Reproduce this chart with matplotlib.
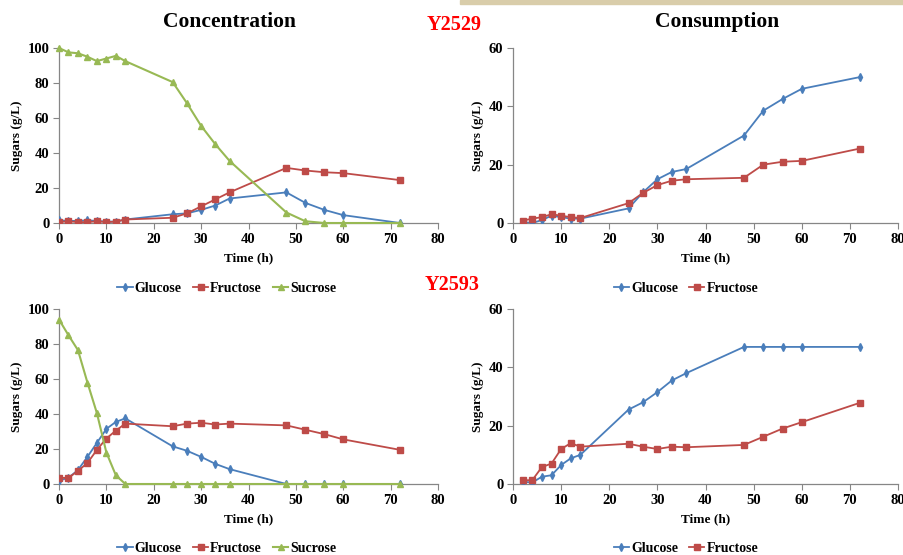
import matplotlib
matplotlib.use("Agg")
import matplotlib.pyplot as plt
from matplotlib.patches import Rectangle

# ============================================================
#  Data
# ============================================================
time_conc = [0, 2, 4, 6, 8, 10, 12, 14, 24, 27, 30, 33, 36, 48, 52, 56, 60, 72]
time_cons = [2, 4, 6, 8, 10, 12, 14, 24, 27, 30, 33, 36, 48, 52, 56, 60, 72]

# Y2529 concentration
y2529_glucose = [1.5, 1.2, 1.2, 1.5, 1.2, 0.8, 0.8, 2, 5, 5.5, 7.5, 10, 14, 17.5, 11.5, 7.5, 4.5, 0]
y2529_fructose = [0.5, 1, 0.5, 0.5, 1, 0.5, 0.8, 2, 3, 5.5, 9.5, 13.5, 17.5, 31.5, 30, 29, 28.5, 24.5]
y2529_sucrose = [100, 97.5, 97, 95, 92.5, 94, 95.5, 92.5, 80.5, 68.5, 55.5, 45, 35.5, 6, 1, 0, 0, 0]

# Y2529 consumption
y2529_glc_cons = [0.3, 0, 1, 2.5, 2, 1.5, 1.5, 5, 10.5, 15, 17.5, 18.5, 30, 38.5, 42.5, 46, 50]
y2529_fru_cons = [0.8, 1.5, 2, 3, 2.5, 2, 1.7, 6.8, 10.3, 13, 14.5, 15, 15.5, 20, 21, 21.3, 25.5]

# Y2593 concentration
y2593_glucose = [2, 3.5, 8, 15.5, 23.5, 31.5, 35.5, 37.5, 21.5, 19, 15.5, 11.5, 8.5, 0, 0, 0, 0, 0]
y2593_fructose = [3.5, 3.5, 7.5, 12, 19.5, 26, 30.5, 34.5, 33, 34.5, 35, 34, 34.5, 33.5, 31, 28.5, 25.5, 19.5]
y2593_sucrose = [94, 85, 76.5, 58, 40.5, 18, 5, 0, 0, 0, 0, 0, 0, 0, 0, 0, 0, 0]

# Y2593 consumption
y2593_glc_cons = [0.8, 0.5, 2.5, 3, 6.5, 8.8, 10, 25.5, 28, 31.5, 35.5, 38, 47, 47, 47, 47, 47]
y2593_fru_cons = [1.3, 1.3, 5.8, 7, 12, 14, 12.8, 13.8, 12.8, 12, 12.8, 12.6, 13.4, 16.2, 19, 21.2, 27.8]

BLUE = "#4A7EBB"
RED = "#BE4B48"
GREEN = "#98B954"
SPINE = "#868686"

plt.rcParams["font.family"] = ["Liberation Serif", "DejaVu Serif"]
plt.rcParams["font.weight"] = "bold"

W, H = 904, 555
fig = plt.figure(figsize=(W / 100, H / 100), dpi=100)


def px_axes(x0, x1, ytop, ybot):
    return fig.add_axes([x0 / W, 1 - ybot / H, (x1 - x0) / W, (ybot - ytop) / H])


def style(ax, ymax, ystep):
    ax.set_xlim(0, 80)
    ax.set_ylim(0, ymax)
    ax.set_xticks(range(0, 81, 10))
    ax.set_yticks(range(0, ymax + 1, ystep))
    for s in ["top", "right"]:
        ax.spines[s].set_visible(False)
    for s in ["left", "bottom"]:
        ax.spines[s].set_color(SPINE)
        ax.spines[s].set_linewidth(0.9)
    ax.tick_params(axis="both", direction="out", length=4, width=0.8,
                   color=SPINE, labelsize=10.5, pad=3)
    for label in ax.get_xticklabels() + ax.get_yticklabels():
        label.set_fontweight("bold")
    ax.set_xlabel("Time (h)", fontsize=9.5, fontweight="bold", labelpad=5)
    ax.set_ylabel("Sugars (g/L)", fontsize=9.5, fontweight="bold", labelpad=3)


def plot_conc(ax, glc, fru, suc):
    ax.plot(time_conc, glc, color=BLUE, marker="d", markersize=4, lw=1.3,
            label="Glucose", zorder=3)
    ax.plot(time_conc, fru, color=RED, marker="s", markersize=4.5, lw=1.3,
            label="Fructose", zorder=3)
    ax.plot(time_conc, suc, color=GREEN, marker="^", markersize=4.5, lw=1.5,
            label="Sucrose", zorder=3, clip_on=False)
    style(ax, 100, 20)


def plot_cons(ax, glc, fru):
    ax.plot(time_cons, glc, color=BLUE, marker="d", markersize=4, lw=1.3,
            label="Glucose", zorder=3)
    ax.plot(time_cons, fru, color=RED, marker="s", markersize=4.5, lw=1.3,
            label="Fructose", zorder=3)
    style(ax, 60, 20)


ax_tl = px_axes(59, 438, 48, 223)
ax_tr = px_axes(513, 898, 48, 223)
ax_bl = px_axes(59, 438, 309, 484)
ax_br = px_axes(513, 898, 309, 484)

plot_conc(ax_tl, y2529_glucose, y2529_fructose, y2529_sucrose)
plot_cons(ax_tr, y2529_glc_cons, y2529_fru_cons)
plot_conc(ax_bl, y2593_glucose, y2593_fructose, y2593_sucrose)
plot_cons(ax_br, y2593_glc_cons, y2593_fru_cons)

# legends below each panel
for ax, cx, cy in [(ax_tl, 227, 288), (ax_tr, 686, 288),
                   (ax_bl, 227, 548), (ax_br, 686, 548)]:
    h, l = ax.get_legend_handles_labels()
    fig.legend(h, l, bbox_to_anchor=(cx / W, 1 - cy / H), loc="center",
               frameon=False, ncol=3, handlelength=1.1, handletextpad=0.15,
               columnspacing=0.8, prop={"weight": "bold", "size": 10})

# titles
fig.text(230 / W, 1 - 22 / H, "Concentration", ha="center", va="center",
         fontsize=15.5, fontweight="bold")
fig.text(717 / W, 1 - 22 / H, "Consumption", ha="center", va="center",
         fontsize=15.5, fontweight="bold")
fig.text(454 / W, 1 - 25 / H, "Y2529", ha="center", va="center",
         fontsize=14.5, fontweight="bold", color="red")
fig.text(452 / W, 1 - 285 / H, "Y2593", ha="center", va="center",
         fontsize=14.5, fontweight="bold", color="red")

# beige bar at the top of the slide
fig.patches.append(Rectangle((460 / W, 1 - 4 / H), (W - 460) / W, 4 / H,
                             transform=fig.transFigure, color="#D9CDAA", zorder=0))

fig.savefig("out.png", dpi=100)
